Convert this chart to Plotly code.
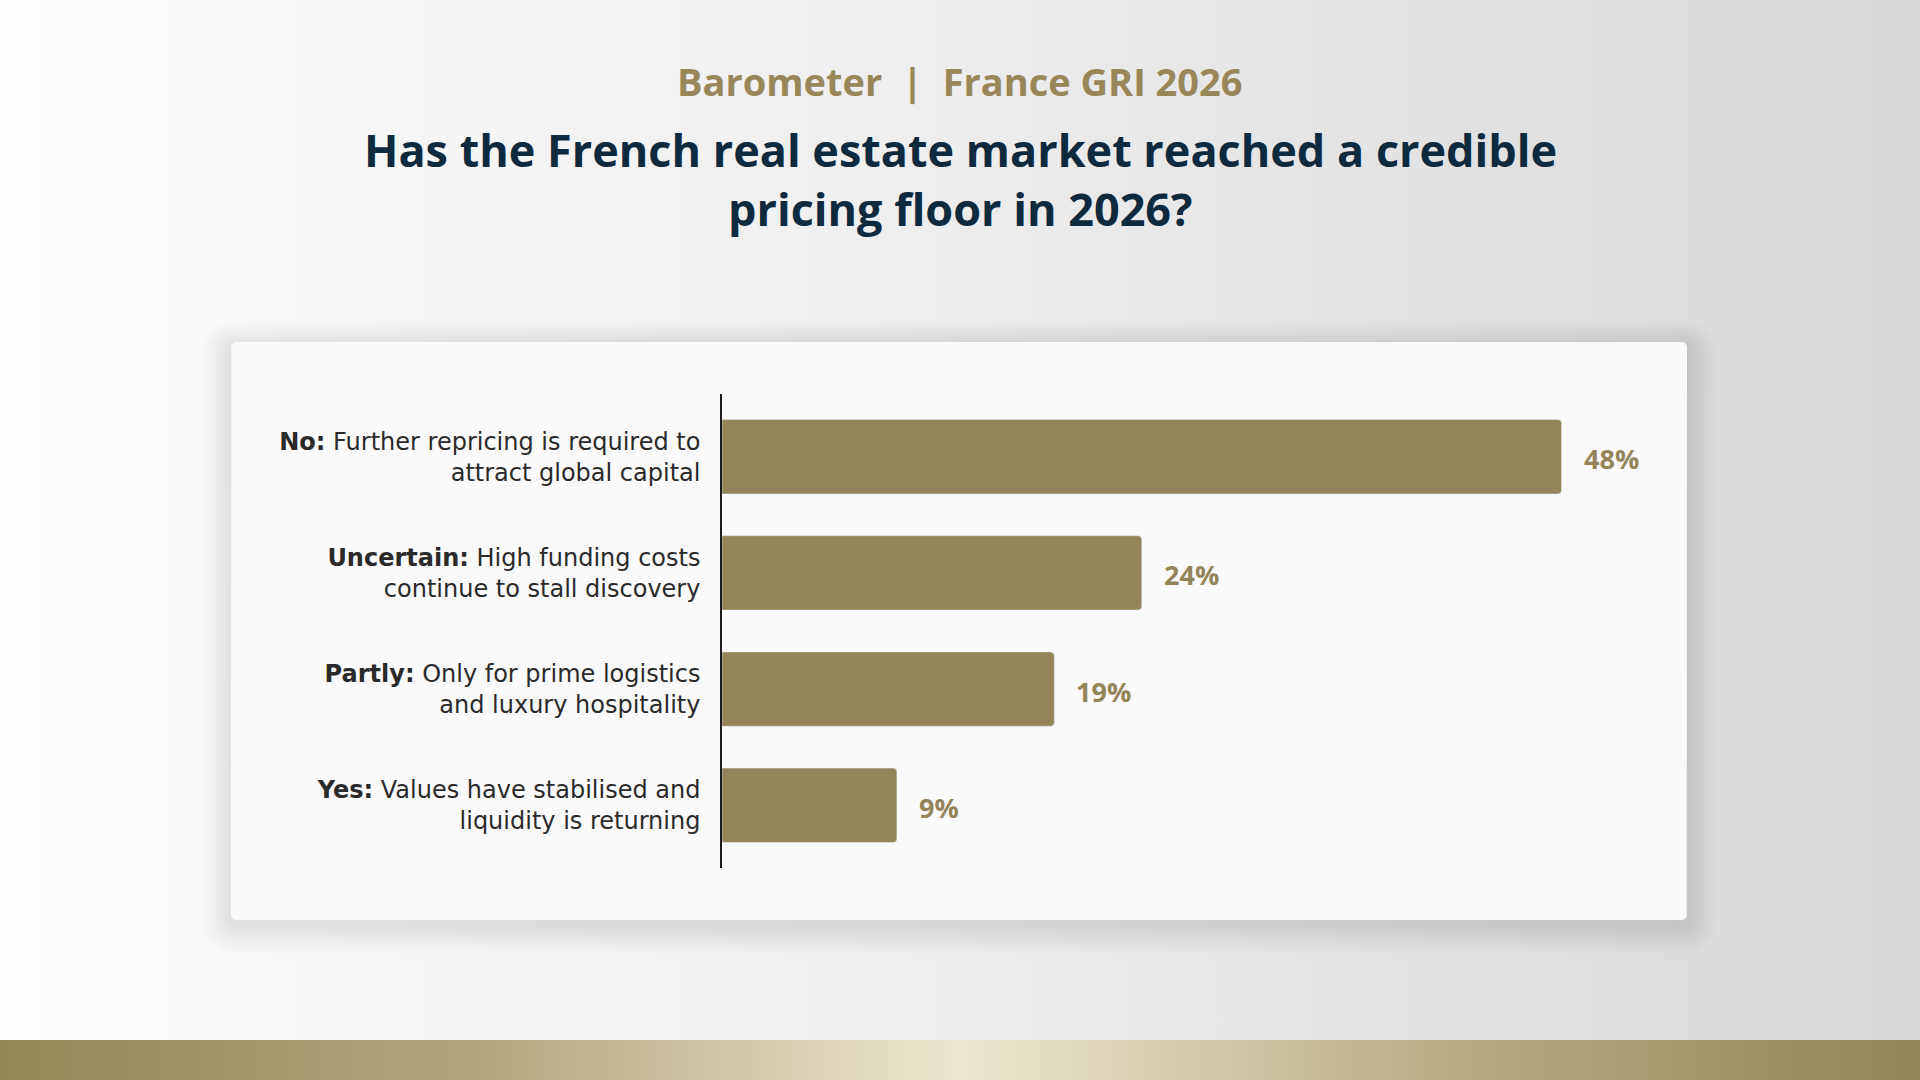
import math
import plotly.graph_objects as go

# survey answers, top to bottom
answer_keys = ["No:", "Uncertain:", "Partly:", "Yes:"]
answer_text = [
    "Further repricing is required to<br>attract global capital",
    "High funding costs<br>continue to stall discovery",
    "Only for prime logistics<br>and luxury hospitality",
    "Values have stabilised and<br>liquidity is returning",
]
bar_lengths = [48, 24, 19, 10]          # as drawn in the picture
share_labels = ["48%", "24%", "19%", "9%"]  # as printed next to the bars

subtitle = "Barometer  |  France GRI 2026"
title_lines = ["Has the French real estate market reached a credible", "pricing floor in 2026?"]

GOLD = "#948459"
NAVY = "#0e2a3f"
FONT = "Open Sans"
LABEL_FONT = "DejaVu Sans"
W, H = 1920, 1080


def rounded_rect(x0, y0, x1, y1, r, n=8):
    # polygon outline of a rounded rectangle, in pixel coords
    xs, ys = [], []
    corners = [(x1 - r, y0 + r, -90), (x1 - r, y1 - r, 0), (x0 + r, y1 - r, 90), (x0 + r, y0 + r, 180)]
    for cx, cy, a0 in corners:
        for k in range(n + 1):
            a = math.radians(a0 + 90 * k / n)
            xs.append(cx + r * math.cos(a))
            ys.append(cy + r * math.sin(a))
    xs.append(xs[0])
    ys.append(ys[0])
    return xs, ys


fig = go.Figure()

# page background
fig.add_trace(go.Scatter(
    x=[0, W, W, 0, 0], y=[0, 0, H, H, 0], mode="lines", fill="toself",
    line=dict(width=0), hoverinfo="skip", showlegend=False,
    fillgradient=dict(type="horizontal", colorscale=[[0, "#fdfdfd"], [0.5, "#ededed"], [1, "#d7d7d7"]]),
))
# bottom gold band
fig.add_trace(go.Scatter(
    x=[0, W, W, 0, 0], y=[1040, 1040, H, H, 1040], mode="lines", fill="toself",
    line=dict(width=0), hoverinfo="skip", showlegend=False,
    fillgradient=dict(type="horizontal", colorscale=[
        [0, "#958657"], [0.25, "#b3a67e"], [0.5, "#ece7cd"], [0.75, "#b8ad85"], [1, "#928456"]]),
))

# card shadow + card
card = (231, 342, 1687, 920)
for i in range(12, 0, -1):
    sx, sy = rounded_rect(card[0] - i * 2.5, card[1] - i * 2 + 4, card[2] + i * 2.5, card[3] + i * 2.5 + 4, 6 + i * 2)
    fig.add_trace(go.Scatter(x=sx, y=sy, mode="lines", fill="toself", line=dict(width=0),
                             fillcolor="rgba(0,0,0,0.007)", hoverinfo="skip", showlegend=False))
cx, cy = rounded_rect(*card, 5)
fig.add_trace(go.Scatter(x=cx, y=cy, mode="lines", fill="toself", line=dict(width=0),
                         fillcolor="#fbfafa", hoverinfo="skip", showlegend=False))

# bars
labels = [f"<b>{k}</b> {t}" for k, t in zip(answer_keys, answer_text)]
fig.add_trace(go.Bar(
    x=bar_lengths, y=labels, orientation="h", xaxis="x2", yaxis="y2",
    marker=dict(color=GOLD, cornerradius=4), width=0.64,
    hoverinfo="skip", showlegend=False,
))
for v, txt, lab in zip(bar_lengths, share_labels, labels):
    fig.add_annotation(x=v, y=lab, xref="x2", yref="y2", text=f"<b>{txt}</b>", showarrow=False,
                       xanchor="left", xshift=20, yshift=-2, font=dict(family=FONT, size=27, color=GOLD))

fig.add_annotation(x=0.5, y=81, xref="paper", yref="y", text=f"<b>{subtitle}</b>", showarrow=False,
                   font=dict(family=FONT, size=38, color="#978759"))
for line, ty in zip(title_lines, [149, 208]):
    fig.add_annotation(x=0.5, y=ty, xref="paper", yref="y", text=f"<b>{line}</b>", showarrow=False,
                       font=dict(family=FONT, size=45, color=NAVY))

fig.update_layout(
    width=W, height=H, margin=dict(l=0, r=0, t=0, b=0),
    paper_bgcolor="#f2f2f2", plot_bgcolor="rgba(0,0,0,0)",
    xaxis=dict(domain=[0, 1], range=[0, W], visible=False, fixedrange=True),
    yaxis=dict(domain=[0, 1], range=[H, 0], visible=False, fixedrange=True),
    xaxis2=dict(domain=[722 / W, 1684 / W], range=[0, 55], anchor="y2", visible=False, fixedrange=True),
    yaxis2=dict(domain=[1 - 868 / H, 1 - 394 / H], anchor="x2", type="category", range=[3.54, -0.54],
                showline=True, linecolor="#1c1c1c", linewidth=1.5, showgrid=False, zeroline=False,
                ticks="outside", ticklen=15, tickcolor="rgba(0,0,0,0)", fixedrange=True,
                tickfont=dict(family=LABEL_FONT, size=24, color="#2a2a2a")),
    bargap=0.36,
)

fig.write_html("out.html", config={"displayModeBar": False},
               post_script="document.body.style.margin='0px';document.body.style.overflow='hidden';")
